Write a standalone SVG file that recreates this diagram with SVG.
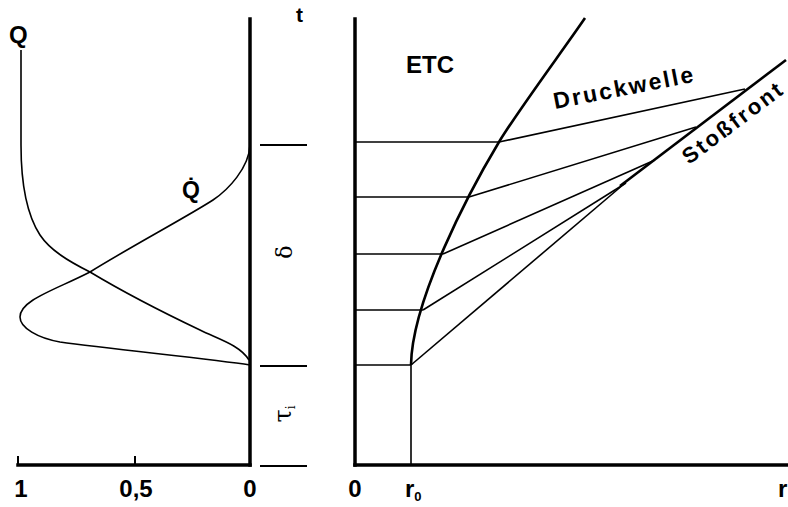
<svg xmlns="http://www.w3.org/2000/svg" width="788" height="507" viewBox="0 0 788 507">
<style>
.bg{fill:#fff}
.axis{stroke:#000;stroke-width:3.5;fill:none;stroke-linecap:square}
.tick{stroke:#000;stroke-width:2;fill:none}
.thin{stroke:#000;stroke-width:1.6;fill:none}
.curve{stroke:#000;stroke-width:1.6;fill:none}
.thick{stroke:#000;stroke-width:2.6;fill:none}
.lbl{font-family:"Liberation Sans",Arial,sans-serif;font-weight:bold;fill:#000}
.greek{font-family:"DejaVu Serif","Liberation Serif",serif;fill:#000}
</style>
<rect class="bg" x="0" y="0" width="788" height="507"/>

<g id="left-axes">
  <line class="axis" x1="250" y1="19" x2="250" y2="465"/>
  <line class="axis" x1="18" y1="465" x2="250" y2="465"/>
  <line class="tick" x1="18" y1="456" x2="18" y2="465"/>
  <line class="tick" x1="135" y1="456" x2="135" y2="465"/>
  <line class="tick" x1="260" y1="145" x2="307" y2="145"/>
  <line class="tick" x1="260" y1="366" x2="307" y2="366"/>
  <line class="tick" x1="260" y1="466" x2="307" y2="466"/>
</g>

<g id="curve-Q">
  <path class="curve" d="M21,50 L21,145 C21,185 27,215 40,235 C50,250 68,261 90,272 C115,287 160,311 200,330 C218,339 240,345 249,360"/>
</g>

<g id="curve-Qdot">
  <path class="curve" d="M250,145 C249,168 228,190 213,200 C190,215 125,250 90,272 C55,290 20,300 20,317 C20,328 38,338 60,342 C110,349 210,359 250,365"/>
</g>

<g id="right-axes">
  <line class="axis" x1="355" y1="19" x2="355" y2="465"/>
  <line class="axis" x1="355" y1="465" x2="790" y2="465"/>
  <line class="thin" x1="411" y1="365" x2="411" y2="465"/>
</g>

<g id="etc-boundary">
  <path class="thick" d="M411,365 C412,300 469,192 499,142 C517,112 564.6,48 585,18"/>
</g>

<g id="shock-front">
  <line class="thick" x1="620" y1="186" x2="786" y2="60"/>
</g>

<g id="connectors">
  <line class="thin" x1="355" y1="142" x2="499" y2="142"/>
  <line class="thin" x1="355" y1="197" x2="469" y2="197"/>
  <line class="thin" x1="355" y1="254" x2="443" y2="254"/>
  <line class="thin" x1="355" y1="310" x2="423" y2="310"/>
  <line class="thin" x1="355" y1="365" x2="411" y2="365"/>
  <line class="thin" x1="499" y1="142" x2="745" y2="89"/>
  <line class="thin" x1="469" y1="197" x2="696" y2="127"/>
  <line class="thin" x1="443" y1="254" x2="655" y2="160"/>
  <line class="thin" x1="423" y1="310" x2="626" y2="183"/>
  <line class="thin" x1="411" y1="365" x2="624" y2="184"/>
</g>

<g id="labels">
  <text class="lbl" x="9" y="43" font-size="24">Q</text>
  <text class="lbl" x="182" y="198" font-size="23">Q̇</text>
  <text class="lbl" x="296" y="22" font-size="21">t</text>
  <text class="lbl" x="406" y="73" font-size="24">ETC</text>
  <text class="lbl" font-size="23" transform="translate(555,109) rotate(-11)" textLength="142" lengthAdjust="spacing">Druckwelle</text>
  <text class="lbl" font-size="22" transform="translate(689,165) rotate(-37)" textLength="119" lengthAdjust="spacing">Stoßfront</text>
  <text class="greek" font-size="22" text-anchor="middle" transform="translate(292,252) rotate(-90)">δ</text>
  <text class="greek" font-size="24" text-anchor="middle" transform="translate(291,414) rotate(-90)">τ<tspan font-size="12" dy="4">i</tspan></text>
  <text class="lbl" font-size="24" x="21" y="497" text-anchor="middle">1</text>
  <text class="lbl" font-size="24" x="136" y="497" text-anchor="middle">0,5</text>
  <text class="lbl" font-size="24" x="250" y="497" text-anchor="middle">0</text>
  <text class="lbl" font-size="24" x="355" y="497" text-anchor="middle">0</text>
  <text class="lbl" font-size="24" x="405" y="497">r<tspan font-size="13" dy="4">0</tspan></text>
  <text class="lbl" font-size="24" x="778" y="497">r</text>
</g>
</svg>
